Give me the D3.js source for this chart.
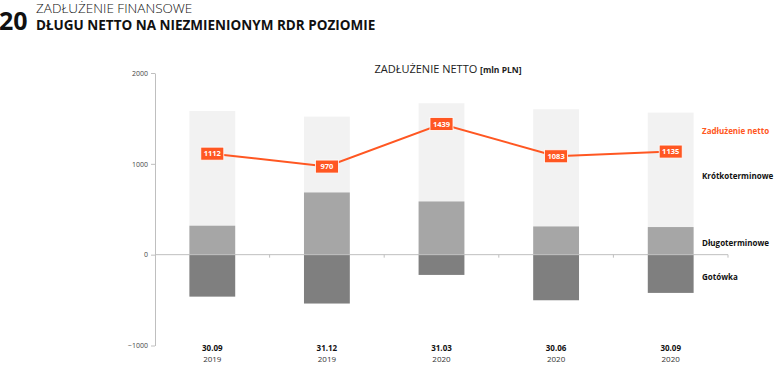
<!DOCTYPE html>
<html>
<head>
<meta charset="utf-8">
<script src="https://cdn.jsdelivr.net/npm/d3@7"></script>
<style>
  body { margin: 0; background: #fff; }
  svg { display: block; font-family: "Open Sans", sans-serif; }
</style>
</head>
<body>
<div id="chart"></div>
<script>
// data
const periods = ["30.09", "31.12", "31.03", "30.06", "30.09"];
const years = ["2019", "2019", "2020", "2020", "2020"];
const krotko = [1263, 835, 1081, 1290, 1260];
const dlugo = [319, 685, 586, 311, 304];
const gotowka = [-462, -538, -223, -502, -421];
const netto = [1112, 970, 1439, 1083, 1135];
const yTicks = [-1000, 0, 1000, 2000];

const W = 783, H = 370;
const margin = {top: 73, left: 155, right: 55, bottom: 25};

const svg = d3.select("#chart").append("svg")
  .attr("width", W).attr("height", H);

// header
const head = svg.append("g");
head.append("text")
  .attr("x", -1).attr("y", 30)
  .style("font", "bold 25px 'Open Sans', sans-serif")
  .attr("fill", "#111")
  .text("20");
head.append("text")
  .attr("x", 36).attr("y", 13)
  .style("font", "300 13.5px 'Open Sans', sans-serif")
  .attr("fill", "#111")
  .text("ZADŁUŻENIE FINANSOWE");
head.append("text")
  .attr("x", 36).attr("y", 29.5)
  .style("font", "bold 13.5px 'Open Sans', sans-serif")
  .attr("fill", "#111")
  .text("DŁUGU NETTO NA NIEZMIENIONYM RDR POZIOMIE");

// scales
const x = d3.scaleBand()
  .domain(d3.range(periods.length))
  .range([margin.left, 728])
  .paddingInner(0.6).paddingOuter(0.3);

const xb = d3.scaleBand()
  .domain(d3.range(periods.length))
  .range([margin.left, 728]);

const y = d3.scaleLinear()
  .domain([-1000, 2000])
  .range([345.5, 73]);

// chart title
const title = svg.append("text")
  .attr("x", 448).attr("y", 73)
  .attr("text-anchor", "middle")
  .attr("fill", "#222");
title.append("tspan").style("font", "11px 'Open Sans', sans-serif").text("ZADŁUŻENIE NETTO ");
title.append("tspan").style("font", "bold 8.5px 'Open Sans', sans-serif").text("[mln PLN]");

// bars
const bars = svg.append("g");
periods.forEach((p, i) => {
  const bx = x(i), bw = x.bandwidth();
  bars.append("rect")
    .attr("x", bx).attr("width", bw)
    .attr("y", y(dlugo[i] + krotko[i]))
    .attr("height", y(dlugo[i]) - y(dlugo[i] + krotko[i]))
    .attr("fill", "#f2f2f2");
  bars.append("rect")
    .attr("x", bx).attr("width", bw)
    .attr("y", y(dlugo[i]))
    .attr("height", y(0) - y(dlugo[i]))
    .attr("fill", "#a6a6a6");
  bars.append("rect")
    .attr("x", bx).attr("width", bw)
    .attr("y", y(0))
    .attr("height", y(gotowka[i]) - y(0))
    .attr("fill", "#7f7f7f");
});

// y axis
svg.append("g")
  .attr("transform", `translate(${margin.left},0)`)
  .call(d3.axisLeft(y).tickValues(yTicks).tickFormat(d3.format("d")).tickSize(4).tickSizeOuter(0))
  .call(g => g.select(".domain").attr("stroke", "#bfbfbf"))
  .call(g => g.selectAll(".tick line").attr("stroke", "#bfbfbf"))
  .call(g => g.selectAll(".tick text")
    .attr("fill", "#444")
    .style("font", "7px 'Open Sans', sans-serif"));

// zero line with band ticks
const zero = svg.append("g");
zero.append("line")
  .attr("x1", margin.left).attr("x2", 728)
  .attr("y1", y(0)).attr("y2", y(0))
  .attr("stroke", "#bfbfbf");
zero.selectAll("line.t")
  .data(d3.range(1, periods.length + 1))
  .enter().append("line")
    .attr("class", "t")
    .attr("x1", i => i < periods.length ? xb(i) : 728)
    .attr("x2", i => i < periods.length ? xb(i) : 728)
    .attr("y1", y(0)).attr("y2", y(0) + 3)
    .attr("stroke", "#bfbfbf");

// category labels
const cats = svg.append("g");
periods.forEach((p, i) => {
  const cx = x(i) + x.bandwidth() / 2;
  cats.append("text")
    .attr("x", cx).attr("y", 351)
    .attr("text-anchor", "middle")
    .style("font", "bold 8px 'Open Sans', sans-serif")
    .attr("fill", "#111")
    .text(p);
  cats.append("text")
    .attr("x", cx).attr("y", 362)
    .attr("text-anchor", "middle")
    .style("font", "8px 'Open Sans', sans-serif")
    .attr("fill", "#333")
    .text(years[i]);
});

// netto line
const orange = "#ff5722";
const line = d3.line()
  .x((d, i) => x(i) + x.bandwidth() / 2)
  .y(d => y(d));
svg.append("path")
  .datum(netto)
  .attr("d", line)
  .attr("fill", "none")
  .attr("stroke", orange)
  .attr("stroke-width", 2);

const lbl = svg.append("g").selectAll("g")
  .data(netto)
  .enter().append("g")
    .attr("transform", (d, i) => `translate(${x(i) + x.bandwidth() / 2},${y(d)})`);
lbl.append("rect")
  .attr("x", -11.5).attr("y", -6.5)
  .attr("width", 23).attr("height", 13)
  .attr("fill", orange)
  .attr("stroke", "#fff").attr("stroke-width", 0.8);
lbl.append("text")
  .attr("text-anchor", "middle")
  .attr("dy", "0.35em")
  .attr("fill", "#fff")
  .style("font", "bold 7.5px 'Open Sans', sans-serif")
  .text(d => d);

// legend labels at right
const legend = [
  {t: "Zadłużenie netto", y: 134, c: orange},
  {t: "Krótkoterminowe", y: 179, c: "#111"},
  {t: "Długoterminowe", y: 246, c: "#111"},
  {t: "Gotówka", y: 280, c: "#111"}
];
svg.append("g").selectAll("text")
  .data(legend)
  .enter().append("text")
    .attr("x", 702).attr("y", d => d.y)
    .attr("fill", d => d.c)
    .style("font", "bold 8px 'Open Sans', sans-serif")
    .text(d => d.t);
</script>
</body>
</html>
